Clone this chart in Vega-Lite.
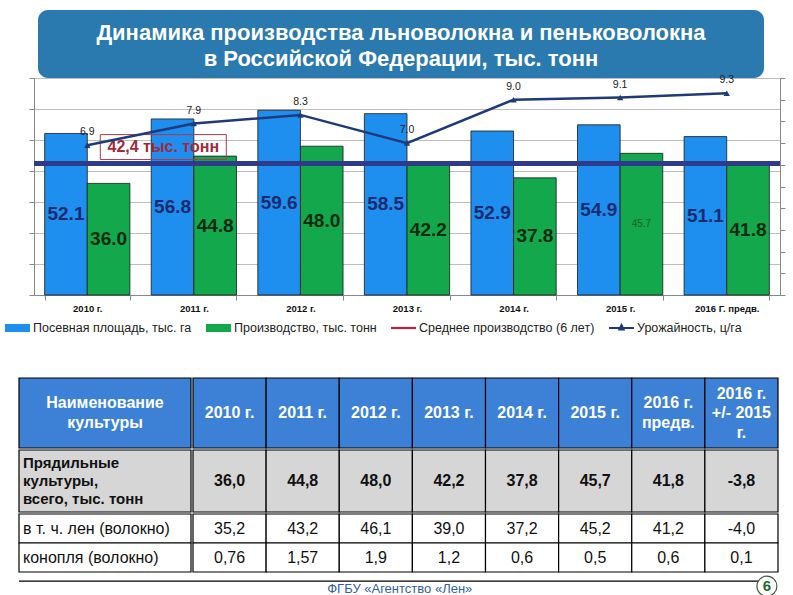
{
  "$schema": "https://vega.github.io/schema/vega-lite/v6.json",
  "background": "white",
  "padding": {"left": 0, "top": 10, "right": 0, "bottom": 0},
  "config": {"view": {"stroke": null}, "font": "Liberation Sans"},
  "datasets": {
    "title": [
      {"line": 1, "text": "Динамика производства льноволокна и пеньковолокна"},
      {"line": 2, "text": "в Российской Федерации, тыс. тонн"}
    ],
    "bars": [
      {"year": "2010 г.", "series": "Посевная площадь, тыс. га", "value": 52.1},
      {"year": "2010 г.", "series": "Производство, тыс. тонн", "value": 36.0},
      {"year": "2011 г.", "series": "Посевная площадь, тыс. га", "value": 56.8},
      {"year": "2011 г.", "series": "Производство, тыс. тонн", "value": 44.8},
      {"year": "2012 г.", "series": "Посевная площадь, тыс. га", "value": 59.6},
      {"year": "2012 г.", "series": "Производство, тыс. тонн", "value": 48.0},
      {"year": "2013 г.", "series": "Посевная площадь, тыс. га", "value": 58.5},
      {"year": "2013 г.", "series": "Производство, тыс. тонн", "value": 42.2},
      {"year": "2014 г.", "series": "Посевная площадь, тыс. га", "value": 52.9},
      {"year": "2014 г.", "series": "Производство, тыс. тонн", "value": 37.8},
      {"year": "2015 г.", "series": "Посевная площадь, тыс. га", "value": 54.9},
      {"year": "2015 г.", "series": "Производство, тыс. тонн", "value": 45.7},
      {"year": "2016 Г. предв.", "series": "Посевная площадь, тыс. га", "value": 51.1},
      {"year": "2016 Г. предв.", "series": "Производство, тыс. тонн", "value": 41.8}
    ],
    "yield": [
      {"year": "2010 г.", "yield": 6.9},
      {"year": "2011 г.", "yield": 7.9},
      {"year": "2012 г.", "yield": 8.3},
      {"year": "2013 г.", "yield": 7.0},
      {"year": "2014 г.", "yield": 9.0},
      {"year": "2015 г.", "yield": 9.1},
      {"year": "2016 Г. предв.", "yield": 9.3}
    ],
    "average": [{"label": "42,4 тыс. тонн", "value": 42.4}],
    "legend": [
      {"series": "Посевная площадь, тыс. га"},
      {"series": "Производство, тыс. тонн"},
      {"series": "Среднее производство (6 лет)"},
      {"series": "Урожайность, ц/га"}
    ],
    "cells": [
      {"row": "h", "col": "name", "text": "Наименование\nкультуры"},
      {"row": "h", "col": "2010", "text": "2010 г."},
      {"row": "h", "col": "2011", "text": "2011 г."},
      {"row": "h", "col": "2012", "text": "2012 г."},
      {"row": "h", "col": "2013", "text": "2013 г."},
      {"row": "h", "col": "2014", "text": "2014 г."},
      {"row": "h", "col": "2015", "text": "2015 г."},
      {"row": "h", "col": "2016", "text": "2016 г.\nпредв."},
      {"row": "h", "col": "diff", "text": "2016 г.\n+/- 2015\nг."},
      {"row": "r1", "col": "name", "text": "Прядильные\nкультуры,\n\u00a0всего, тыс. тонн"},
      {"row": "r1", "col": "2010", "text": "36,0"},
      {"row": "r1", "col": "2011", "text": "44,8"},
      {"row": "r1", "col": "2012", "text": "48,0"},
      {"row": "r1", "col": "2013", "text": "42,2"},
      {"row": "r1", "col": "2014", "text": "37,8"},
      {"row": "r1", "col": "2015", "text": "45,7"},
      {"row": "r1", "col": "2016", "text": "41,8"},
      {"row": "r1", "col": "diff", "text": "-3,8"},
      {"row": "r2", "col": "name", "text": "в т. ч. лен (волокно)"},
      {"row": "r2", "col": "2010", "text": "35,2"},
      {"row": "r2", "col": "2011", "text": "43,2"},
      {"row": "r2", "col": "2012", "text": "46,1"},
      {"row": "r2", "col": "2013", "text": "39,0"},
      {"row": "r2", "col": "2014", "text": "37,2"},
      {"row": "r2", "col": "2015", "text": "45,2"},
      {"row": "r2", "col": "2016", "text": "41,2"},
      {"row": "r2", "col": "diff", "text": "-4,0"},
      {"row": "r3", "col": "name", "text": "конопля (волокно)"},
      {"row": "r3", "col": "2010", "text": "0,76"},
      {"row": "r3", "col": "2011", "text": "1,57"},
      {"row": "r3", "col": "2012", "text": "1,9"},
      {"row": "r3", "col": "2013", "text": "1,2"},
      {"row": "r3", "col": "2014", "text": "0,6"},
      {"row": "r3", "col": "2015", "text": "0,5"},
      {"row": "r3", "col": "2016", "text": "0,6"},
      {"row": "r3", "col": "diff", "text": "0,1"}
    ],
    "footer": [{"text": "ФГБУ «Агентство «Лен»", "page": "6"}]
  },
  "spacing": 64,
  "vconcat": [
    {
      "spacing": -5,
      "vconcat": [
        {
          "spacing": 0,
          "hconcat": [
            {"width": 19, "height": 1, "data": {"values": []}, "mark": {"type": "point"}},
            {
              "width": 726,
              "height": 68,
              "view": {"fill": "#2A79AF", "cornerRadius": 10, "stroke": null},
              "data": {"name": "title"},
              "mark": {"type": "text", "color": "white", "fontSize": 22, "fontWeight": "bold", "font": "Liberation Sans", "dy": 2},
              "encoding": {
                "y": {"field": "line", "type": "ordinal", "scale": {"padding": 0.76}, "axis": null},
                "text": {"field": "text"}
              }
            }
          ]
        },
        {
          "spacing": 0,
          "hconcat": [
            {"width": 1, "height": 1, "data": {"values": []}, "mark": {"type": "point"}},
            {
              "width": 746,
              "height": 217,
              "resolve": {"scale": {"y": "independent"}},
              "layer": [
                {
                  "data": {"name": "bars"},
                  "mark": {"type": "bar", "stroke": "#1a1a1a", "strokeWidth": 0.8},
                  "encoding": {
                    "x": {"field": "year", "type": "nominal",
                      "scale": {"domain": ["2010 г.", "2011 г.", "2012 г.", "2013 г.", "2014 г.", "2015 г.", "2016 Г. предв."], "paddingInner": 0.2, "paddingOuter": 0.1},
                      "axis": {"title": null, "labelAngle": 0, "labelFont": "Liberation Sans", "labelFontWeight": "bold", "labelFontSize": 9.5, "labelColor": "#111", "tickBand": "extent", "tickSize": 5, "tickColor": "#888", "domainColor": "#888", "labelPadding": 3}},
                    "xOffset": {"field": "series", "type": "nominal", "scale": {"domain": ["Посевная площадь, тыс. га", "Производство, тыс. тонн"], "paddingInner": 0, "paddingOuter": 0}},
                    "y": {"field": "value", "type": "quantitative", "scale": {"domain": [0, 70]},
                      "axis": {"orient": "left", "values": [0, 10, 20, 30, 40, 50, 60, 70], "labels": false, "tickSize": 5, "tickColor": "#888", "domainColor": "#888", "grid": true, "gridColor": "#BDBDBD", "title": null, "minExtent": 14, "maxExtent": 14}},
                    "color": {"field": "series", "type": "nominal",
                      "scale": {"domain": ["Посевная площадь, тыс. га", "Производство, тыс. тонн", "Среднее производство (6 лет)", "Урожайность, ц/га"], "range": ["#1E8FEF", "#12A84B", "#B0283A", "#1F3A7A"]},
                      "legend": {"orient": "none", "legendX": -14, "legendY": 305.5, "direction": "horizontal", "title": null, "labelFont": "Liberation Sans", "labelFontSize": 12.5, "labelColor": "#222", "labelLimit": 300, "symbolSize": 625, "columnPadding": 14, "symbolStrokeWidth": 0, "symbolOpacity": 1, "labelOffset": 3}}
                  }
                },
                {
                  "data": {"name": "bars"},
                  "transform": [{"filter": "datum.series == 'Посевная площадь, тыс. га'"}],
                  "mark": {"type": "text", "fontSize": 19, "fontWeight": "bold", "color": "#1B2B6E"},
                  "encoding": {
                    "x": {"field": "year", "type": "nominal"},
                    "xOffset": {"field": "series", "type": "nominal"},
                    "y": {"field": "value", "type": "quantitative", "scale": {"domain": [0, 140]}, "axis": null},
                    "text": {"field": "value", "type": "quantitative", "format": ".1f"}
                  }
                },
                {
                  "data": {"name": "bars"},
                  "transform": [{"filter": "datum.series == 'Производство, тыс. тонн' && datum.year != '2015 г.'"}],
                  "mark": {"type": "text", "fontSize": 19, "fontWeight": "bold", "color": "#0A2A12"},
                  "encoding": {
                    "x": {"field": "year", "type": "nominal"},
                    "xOffset": {"field": "series", "type": "nominal"},
                    "y": {"field": "value", "type": "quantitative", "scale": {"domain": [0, 140]}, "axis": null},
                    "text": {"field": "value", "type": "quantitative", "format": ".1f"}
                  }
                },
                {
                  "data": {"name": "bars"},
                  "transform": [{"filter": "datum.series == 'Производство, тыс. тонн' && datum.year == '2015 г.'"}],
                  "mark": {"type": "text", "fontSize": 10, "color": "#1B5E2A"},
                  "encoding": {
                    "x": {"field": "year", "type": "nominal"},
                    "xOffset": {"field": "series", "type": "nominal"},
                    "y": {"field": "value", "type": "quantitative", "scale": {"domain": [0, 140]}, "axis": null},
                    "text": {"field": "value", "type": "quantitative", "format": ".1f"}
                  }
                },
                {
                  "data": {"name": "average"},
                  "mark": {"type": "rule", "color": "#2E3A8C", "strokeWidth": 5},
                  "encoding": {
                    "y": {"field": "value", "type": "quantitative", "scale": {"domain": [0, 70]}, "axis": null}
                  }
                },
                {
                  "data": {"name": "average"},
                  "mark": {"type": "point", "shape": "M-1,-0.198H1V0.198H-1Z", "size": 15876, "filled": false, "stroke": "#B03A48", "strokeWidth": 1, "opacity": 1, "xOffset": 76, "yOffset": -16.5},
                  "encoding": {
                    "x": {"datum": "2010 г."},
                    "y": {"field": "value", "type": "quantitative", "scale": {"domain": [0, 70]}, "axis": null}
                  }
                },
                {
                  "data": {"name": "average"},
                  "mark": {"type": "text", "fontSize": 16, "fontWeight": "bold", "color": "#A12A3A", "xOffset": 76, "yOffset": -16.5},
                  "encoding": {
                    "x": {"datum": "2010 г."},
                    "y": {"field": "value", "type": "quantitative", "scale": {"domain": [0, 70]}, "axis": null},
                    "text": {"field": "label"}
                  }
                },
                {
                  "data": {"name": "yield"},
                  "mark": {"type": "line", "color": "#1F3A7A", "strokeWidth": 2.5, "point": {"shape": "triangle-up", "size": 40, "filled": true, "color": "#1F3A7A"}},
                  "encoding": {
                    "x": {"field": "year", "type": "nominal"},
                    "y": {"field": "yield", "type": "quantitative", "scale": {"domain": [0, 10]},
                      "axis": {"orient": "right", "values": [0, 1, 2, 3, 4, 5, 6, 7, 8, 9, 10], "labels": false, "tickSize": 5, "tickColor": "#888", "domainColor": "#888", "grid": false, "title": null}}
                  }
                },
                {
                  "data": {"name": "yield"},
                  "mark": {"type": "text", "fontSize": 10.5, "color": "#222", "dy": -13},
                  "encoding": {
                    "x": {"field": "year", "type": "nominal"},
                    "y": {"field": "yield", "type": "quantitative", "scale": {"domain": [0, 10]}, "axis": null},
                    "text": {"field": "yield", "type": "quantitative", "format": ".1f"}
                  }
                },
                {
                  "data": {"name": "legend"},
                  "transform": [{"filter": "false"}],
                  "mark": {"type": "point", "filled": true},
                  "encoding": {
                    "color": {"field": "series", "type": "nominal",
                      "scale": {"domain": ["Посевная площадь, тыс. га", "Производство, тыс. тонн", "Среднее производство (6 лет)", "Урожайность, ц/га"], "range": ["#1E8FEF", "#12A84B", "#B0283A", "#1F3A7A"]},
                      "legend": {"orient": "none", "legendX": -14, "legendY": 305.5, "direction": "horizontal", "title": null, "labelFont": "Liberation Sans", "labelFontSize": 12.5, "labelColor": "#222", "labelLimit": 300, "symbolSize": 625, "columnPadding": 14, "symbolStrokeWidth": 0, "symbolOpacity": 1, "labelOffset": 3}},
                    "shape": {"field": "series", "type": "nominal",
                      "scale": {"domain": ["Посевная площадь, тыс. га", "Производство, тыс. тонн", "Среднее производство (6 лет)", "Урожайность, ц/га"], "range": ["M-1,-0.32H1V0.32H-1Z", "M-1,-0.32H1V0.32H-1Z", "M-1,-0.09H1V0.09H-1Z", "M-1,-0.08H1V0.08H-1Z M0,-0.42L0.3,0.2L-0.3,0.2Z"]},
                      "legend": {"orient": "none", "legendX": -14, "legendY": 305.5, "direction": "horizontal", "title": null, "labelFont": "Liberation Sans", "labelFontSize": 12.5, "labelColor": "#222", "labelLimit": 300, "symbolSize": 625, "columnPadding": 14, "symbolStrokeWidth": 0, "symbolOpacity": 1, "labelOffset": 3}}
                  }
                }
              ]
            }
          ]
        }
      ]
    },
    {
      "spacing": 0,
      "vconcat": [
        {
          "spacing": 0,
          "hconcat": [
            {
              "width": 172, "height": 70,
              "data": {"name": "cells"},
              "transform": [{"filter": "datum.row == 'h' && datum.col == 'name'"}],
              "encoding": {
                "x": {"field": "col", "type": "nominal", "scale": {"paddingInner": 0, "paddingOuter": 0}, "axis": null},
                "y": {"field": "row", "type": "nominal", "scale": {"paddingInner": 0, "paddingOuter": 0}, "axis": {"labels": false, "ticks": false, "domain": false, "grid": false, "title": null, "minExtent": 17, "maxExtent": 17}}
              },
              "layer": [
                {"mark": {"type": "rect", "fill": "#3D81D7", "stroke": "black", "strokeWidth": 1.2}},
                {"mark": {"type": "text", "color": "white", "fontSize": 16, "fontWeight": "bold", "lineBreak": "\n", "lineHeight": 20, "dy": -10}, "encoding": {"text": {"field": "text"}}}
              ]
            },
            {
              "width": 585, "height": 70,
              "data": {"name": "cells"},
              "transform": [{"filter": "datum.row == 'h' && datum.col != 'name'"}],
              "encoding": {
                "x": {"field": "col", "type": "nominal", "scale": {"domain": ["2010", "2011", "2012", "2013", "2014", "2015", "2016", "diff"], "paddingInner": 0, "paddingOuter": 0}, "axis": null},
                "y": {"field": "row", "type": "nominal", "scale": {"paddingInner": 0, "paddingOuter": 0}, "axis": null}
              },
              "layer": [
                {"mark": {"type": "rect", "fill": "#3D81D7", "stroke": "black", "strokeWidth": 1.2}},
                {"transform": [{"filter": "datum.col != '2016' && datum.col != 'diff'"}],
                 "mark": {"type": "text", "color": "white", "fontSize": 16, "fontWeight": "bold"}, "encoding": {"text": {"field": "text"}}},
                {"transform": [{"filter": "datum.col == '2016'"}],
                 "mark": {"type": "text", "color": "white", "fontSize": 16, "fontWeight": "bold", "lineBreak": "\n", "lineHeight": 20, "dy": -10}, "encoding": {"text": {"field": "text"}}},
                {"transform": [{"filter": "datum.col == 'diff'"}],
                 "mark": {"type": "text", "color": "white", "fontSize": 16, "fontWeight": "bold", "lineBreak": "\n", "lineHeight": 19.5, "dy": -19.5}, "encoding": {"text": {"field": "text"}}}
              ]
            }
          ]
        },
        {
          "spacing": 0,
          "hconcat": [
            {
              "width": 172, "height": 62,
              "data": {"name": "cells"},
              "transform": [{"filter": "datum.row == 'r1' && datum.col == 'name'"}],
              "encoding": {
                "x": {"field": "col", "type": "nominal", "scale": {"paddingInner": 0, "paddingOuter": 0}, "axis": null},
                "y": {"field": "row", "type": "nominal", "scale": {"paddingInner": 0, "paddingOuter": 0}, "axis": {"labels": false, "ticks": false, "domain": false, "grid": false, "title": null, "minExtent": 17, "maxExtent": 17}}
              },
              "layer": [
                {"mark": {"type": "rect", "fill": "#D6D6D6", "stroke": "black", "strokeWidth": 1.2}},
                {"mark": {"type": "text", "color": "#111", "fontSize": 15, "fontWeight": "bold", "lineBreak": "\n", "lineHeight": 18.3, "align": "left", "dx": 4, "dy": -18.3},
                 "encoding": {"x": {"field": "col", "type": "nominal", "bandPosition": 0}, "text": {"field": "text"}}}
              ]
            },
            {
              "width": 585, "height": 62,
              "data": {"name": "cells"},
              "transform": [{"filter": "datum.row == 'r1' && datum.col != 'name'"}],
              "encoding": {
                "x": {"field": "col", "type": "nominal", "scale": {"domain": ["2010", "2011", "2012", "2013", "2014", "2015", "2016", "diff"], "paddingInner": 0, "paddingOuter": 0}, "axis": null},
                "y": {"field": "row", "type": "nominal", "scale": {"paddingInner": 0, "paddingOuter": 0}, "axis": null}
              },
              "layer": [
                {"mark": {"type": "rect", "fill": "#D6D6D6", "stroke": "black", "strokeWidth": 1.2}},
                {"mark": {"type": "text", "color": "#111", "fontSize": 16, "fontWeight": "bold"}, "encoding": {"text": {"field": "text"}}}
              ]
            }
          ]
        },
        {
          "spacing": 0,
          "hconcat": [
            {
              "width": 172, "height": 58,
              "data": {"name": "cells"},
              "transform": [{"filter": "(datum.row == 'r2' || datum.row == 'r3') && datum.col == 'name'"}],
              "encoding": {
                "x": {"field": "col", "type": "nominal", "scale": {"paddingInner": 0, "paddingOuter": 0}, "axis": null},
                "y": {"field": "row", "type": "nominal", "scale": {"paddingInner": 0, "paddingOuter": 0}, "axis": {"labels": false, "ticks": false, "domain": false, "grid": false, "title": null, "minExtent": 17, "maxExtent": 17}}
              },
              "layer": [
                {"mark": {"type": "rect", "fill": "white", "stroke": "black", "strokeWidth": 1.2}},
                {"mark": {"type": "text", "color": "#111", "fontSize": 16, "align": "left", "dx": 4},
                 "encoding": {"x": {"field": "col", "type": "nominal", "bandPosition": 0}, "text": {"field": "text"}}}
              ]
            },
            {
              "width": 585, "height": 58,
              "data": {"name": "cells"},
              "transform": [{"filter": "(datum.row == 'r2' || datum.row == 'r3') && datum.col != 'name'"}],
              "encoding": {
                "x": {"field": "col", "type": "nominal", "scale": {"domain": ["2010", "2011", "2012", "2013", "2014", "2015", "2016", "diff"], "paddingInner": 0, "paddingOuter": 0}, "axis": null},
                "y": {"field": "row", "type": "nominal", "scale": {"paddingInner": 0, "paddingOuter": 0}, "axis": null}
              },
              "layer": [
                {"mark": {"type": "rect", "fill": "white", "stroke": "black", "strokeWidth": 1.2}},
                {"mark": {"type": "text", "color": "#111", "fontSize": 16}, "encoding": {"text": {"field": "text"}}}
              ]
            }
          ]
        },
        {
          "width": 757, "height": 22,
          "data": {"name": "footer"},
          "layer": [
            {
              "mark": {"type": "rule", "color": "black", "strokeWidth": 1.2},
              "encoding": {
                "x": {"datum": 0, "type": "quantitative", "scale": {"domain": [0, 1]}, "axis": null},
                "x2": {"datum": 1},
                "y": {"datum": 0.95, "type": "quantitative", "scale": {"domain": [0, 1]}, "axis": {"labels": false, "ticks": false, "domain": false, "grid": false, "title": null, "minExtent": 17, "maxExtent": 17}}
              }
            },
            {
              "mark": {"type": "rule", "color": "#B0B0B0", "strokeWidth": 2},
              "encoding": {
                "x": {"datum": -0.0225, "type": "quantitative"},
                "x2": {"datum": 1.025},
                "y": {"datum": 0.12, "type": "quantitative"}
              }
            },
            {
              "mark": {"type": "text", "fontSize": 13, "color": "#2F5FA0"},
              "encoding": {
                "x": {"datum": 0.503, "type": "quantitative"},
                "y": {"datum": 0.6, "type": "quantitative"},
                "text": {"field": "text"}
              }
            },
            {
              "mark": {"type": "point", "shape": "circle", "size": 400, "filled": true, "fill": "white", "stroke": "#4A5A4A", "strokeWidth": 1.2, "opacity": 1},
              "encoding": {
                "x": {"datum": 0.988, "type": "quantitative"},
                "y": {"datum": 0.72, "type": "quantitative"}
              }
            },
            {
              "mark": {"type": "text", "fontSize": 15, "fontWeight": "bold", "color": "#1E6B2A"},
              "encoding": {
                "x": {"datum": 0.988, "type": "quantitative"},
                "y": {"datum": 0.72, "type": "quantitative"},
                "text": {"field": "page"}
              }
            }
          ]
        }
      ]
    }
  ]
}
